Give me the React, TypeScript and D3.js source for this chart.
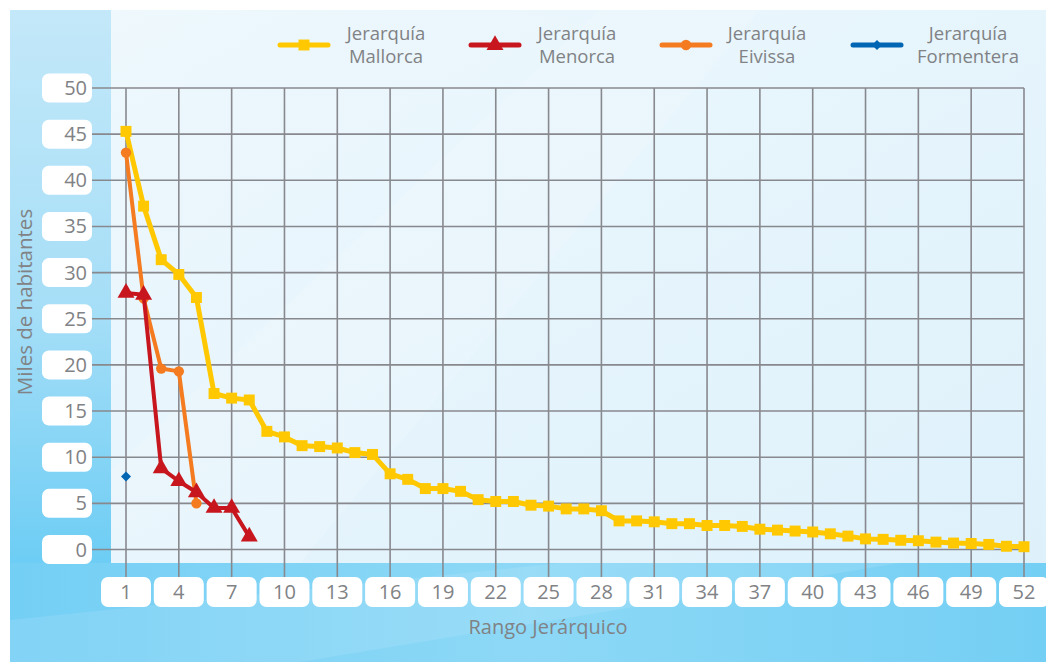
import React, { useEffect } from "react";
import * as d3 from "d3";

const rangos = d3.range(1, 53);
const mallorca = [45.3, 37.2, 31.4, 29.8, 27.3, 16.9, 16.4, 16.2, 12.8, 12.2, 11.25, 11.15, 11.0, 10.5, 10.3, 8.2, 7.6, 6.6, 6.6, 6.3, 5.4, 5.2, 5.2, 4.8, 4.7, 4.4, 4.4, 4.2, 3.1, 3.1, 3.0, 2.8, 2.8, 2.6, 2.6, 2.5, 2.2, 2.1, 2.0, 1.9, 1.7, 1.45, 1.15, 1.1, 1.0, 0.95, 0.8, 0.7, 0.65, 0.55, 0.35, 0.3];
const menorca = [27.8, 27.6, 8.8, 7.4, 6.2, 4.5, 4.5, 1.4];
const eivissa = [43.0, 27.2, 19.6, 19.3, 5.0];
const formentera = [7.9];

const xTicks = d3.range(1, 53, 3);
const yTicks = d3.range(0, 51, 5);

const FONT = "'Open Sans', sans-serif";
const TXT = "#808285";

type Series = { name: string; values: number[]; color: string; symbol: d3.SymbolType; size: number; rot: number; width: number; legendX: number; textX: number };

const series: Series[] = [
  { name: "Mallorca", values: mallorca, color: "#ffc800", symbol: d3.symbolSquare, size: 120, rot: 0, width: 5, legendX: 304, textX: 386 },
  { name: "Eivissa", values: eivissa, color: "#f47b20", symbol: d3.symbolCircle, size: 85, rot: 0, width: 4, legendX: 686, textX: 767 },
  { name: "Menorca", values: menorca, color: "#c8161e", symbol: d3.symbolTriangle, size: 125, rot: 0, width: 4, legendX: 495, textX: 577 },
  { name: "Formentera", values: formentera, color: "#0065b3", symbol: d3.symbolSquare, size: 50, rot: 45, width: 4, legendX: 877, textX: 968 },
];
const legendOrder = ["Mallorca", "Menorca", "Eivissa", "Formentera"];

export default function App() {
  useEffect(() => {
    document.body.style.margin = "0";
  }, []);

  const x = d3.scaleLinear().domain([1, 52]).range([126, 1024]);
  const y = d3.scaleLinear().domain([0, 50]).range([549.5, 88]);
  const line = d3
    .line<number>()
    .x((_, i) => x(rangos[i]))
    .y((d) => y(d));

  return (
    <svg width={1046} height={662} style={{ display: "block" }} fontFamily={FONT}>
      <defs>
        <linearGradient id="leftG" x1="0" y1="0" x2="0" y2="1">
          <stop offset="0" stopColor="#c3e8f9" />
          <stop offset="0.55" stopColor="#a5def7" />
          <stop offset="1" stopColor="#6dcdf4" />
        </linearGradient>
        <linearGradient id="botG" x1="0" y1="0" x2="1" y2="0">
          <stop offset="0" stopColor="#74cff5" />
          <stop offset="0.5" stopColor="#8dd8f6" />
          <stop offset="1" stopColor="#74cff4" />
        </linearGradient>
        <linearGradient id="panelG" x1="0" y1="0" x2="1" y2="1">
          <stop offset="0" stopColor="#eef8fd" />
          <stop offset="1" stopColor="#def1fb" />
        </linearGradient>
      </defs>
      <rect x={10} y={10} width={1036} height={652} fill="url(#botG)" />
      <rect x={10} y={10} width={101} height={553} fill="url(#leftG)" />
      <rect x={111} y={10} width={935} height={553} fill="url(#panelG)" />
      <polygon points="111,563 111,470 600,10 760,10 300,563" fill="#ffffff" opacity={0.12} />
      <polygon points="10,662 10,620 560,563 900,563 300,662" fill="#ffffff" opacity={0.1} />

      {/* grid */}
      {yTicks.map((t) => (
        <line key={"h" + t} x1={92} x2={x(52)} y1={y(t)} y2={y(t)} stroke="#88898e" strokeWidth={1.6} />
      ))}
      {xTicks.map((t) => (
        <line key={"v" + t} x1={x(t)} x2={x(t)} y1={y(50)} y2={578} stroke="#88898e" strokeWidth={1.6} />
      ))}

      {/* y labels */}
      {yTicks.map((t) => (
        <g key={"yl" + t}>
          <rect x={42} y={y(t) - 14.5} width={50} height={29} rx={7} fill="#ffffff" />
          <text x={87} y={y(t) + 7} textAnchor="end" fontSize={20} fill={TXT}>
            {t}
          </text>
        </g>
      ))}
      {/* x labels */}
      {xTicks.map((t) => (
        <g key={"xl" + t}>
          <rect x={x(t) - 25} y={577} width={50} height={30} rx={7} fill="#ffffff" />
          <text x={x(t)} y={599} textAnchor="middle" fontSize={20} fill={TXT}>
            {t}
          </text>
        </g>
      ))}

      {/* axis titles */}
      <text x={548} y={634} textAnchor="middle" fontSize={20} fill={TXT}>
        Rango Jerárquico
      </text>
      <text transform="translate(32,302) rotate(-90)" textAnchor="middle" fontSize={20.5} fill={TXT}>
        Miles de habitantes
      </text>

      {/* series */}
      {series.map((s) => (
        <g key={s.name}>
          {s.values.length > 1 && (
            <path d={line(s.values) || ""} fill="none" stroke={s.color} strokeWidth={s.width} strokeLinejoin="round" />
          )}
          {s.values.map((v, i) => (
            <path
              key={i}
              d={d3.symbol().type(s.symbol).size(s.size)() || ""}
              transform={`translate(${x(rangos[i])},${y(v)}) rotate(${s.rot})`}
              fill={s.color}
            />
          ))}
        </g>
      ))}

      {/* legend */}
      {legendOrder.map((n) => {
        const s = series.find((q) => q.name === n)!;
        return (
          <g key={"lg" + n}>
            <line x1={s.legendX - 24} x2={s.legendX + 24} y1={45} y2={45} stroke={s.color} strokeWidth={5} strokeLinecap="round" />
            <path d={d3.symbol().type(s.symbol).size(s.size)() || ""} transform={`translate(${s.legendX},45) rotate(${s.rot})`} fill={s.color} />
            <text x={s.textX} y={40} textAnchor="middle" fontSize={18.5} fill={TXT}>
              Jerarquía
            </text>
            <text x={s.textX} y={63} textAnchor="middle" fontSize={18.5} fill={TXT}>
              {n}
            </text>
          </g>
        );
      })}
    </svg>
  );
}
